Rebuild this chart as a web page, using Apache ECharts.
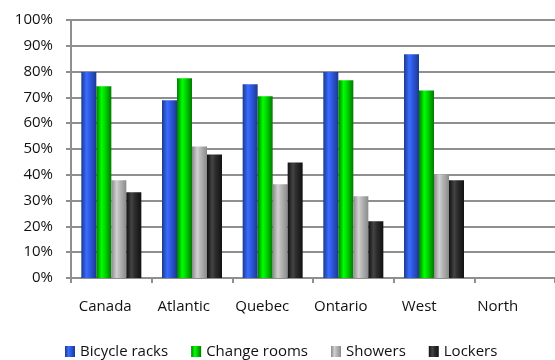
<!DOCTYPE html>
<html>
<head>
<meta charset="utf-8">
<script src="https://cdn.jsdelivr.net/npm/echarts@6/dist/echarts.min.js"></script>
<style>
  html, body { margin: 0; padding: 0; background: #fff; }
  #chart { width: 555px; height: 360px; }
</style>
</head>
<body>
<div id="chart"></div>
<script>
// Regions and facility shares (percent of workplaces)
const regions = ['Canada', 'Atlantic', 'Quebec', 'Ontario', 'West', 'North'];
const bicycleRacks = [79.8, 68.9, 75.1, 79.8, 86.7, null];
const changeRooms  = [74.3, 77.4, 70.4, 76.6, 72.7, null];
const showers      = [37.9, 51.0, 36.3, 31.7, 40.2, null];
const lockers      = [33.2, 47.9, 44.8, 22.0, 37.9, null];
const yTicks = [0, 10, 20, 30, 40, 50, 60, 70, 80, 90, 100];

const FONT = '"Open Sans", Lato, sans-serif';

// Horizontal shading that gives each bar a rounded, cylinder-like look
function shade(edge, mid, hi) {
  return new echarts.graphic.LinearGradient(0, 0, 1, 0, [
    { offset: 0, color: edge },
    { offset: 0.35, color: hi },
    { offset: 0.55, color: mid },
    { offset: 1, color: edge }
  ]);
}

const palette = {
  'Bicycle racks': shade('#1c3a8c', '#2f5ae6', '#3a6cff'),
  'Change rooms':  shade('#007a00', '#00dd00', '#00ff00'),
  'Showers':       shade('#8a8a8a', '#b8b8b8', '#d0d0d0'),
  'Lockers':       shade('#111111', '#2e2e2e', '#444444')
};

const seriesData = [
  ['Bicycle racks', bicycleRacks],
  ['Change rooms', changeRooms],
  ['Showers', showers],
  ['Lockers', lockers]
];

const chart = echarts.init(document.getElementById('chart'), null, { renderer: 'canvas' });

chart.setOption({
  animation: false,
  grid: [
    { left: 71, top: 20, bottom: 82, right: -13, containLabel: false },
    // separate band that carries the region names
    { left: 66, top: 290, height: 1, width: 471 }
  ],
  legend: {
    top: 344,
    left: 65,
    padding: 0,
    itemWidth: 10,
    itemHeight: 11,
    itemGap: 23,
    icon: 'rect',
    textStyle: { fontFamily: FONT, fontSize: 15, color: '#111', padding: [8, 0, 0, 0] },
    data: seriesData.map(s => s[0])
  },
  xAxis: [
    {
      type: 'category',
      gridIndex: 0,
      data: regions,
      axisLine: { lineStyle: { color: '#8f8f8f', width: 2 } },
      axisTick: { show: true, length: 5, lineStyle: { color: '#8f8f8f', width: 2 } },
      axisLabel: { show: false }
    },
    {
      type: 'category',
      gridIndex: 1,
      data: regions,
      axisLine: { show: false },
      axisTick: { show: false },
      axisLabel: { fontFamily: FONT, fontSize: 15, color: '#111', margin: 8 }
    }
  ],
  yAxis: [
    {
      type: 'value',
      gridIndex: 0,
      min: 0,
      max: 100,
      interval: 10,
      axisLine: { show: true, lineStyle: { color: '#8f8f8f', width: 2 } },
      axisTick: { show: true, length: 5, lineStyle: { color: '#8f8f8f', width: 2 } },
      splitLine: { lineStyle: { color: '#8f8f8f', width: 2 } },
      axisLabel: {
        fontFamily: FONT, fontSize: 15, color: '#111', margin: 18,
        formatter: v => (yTicks.includes(v) ? v + '%' : '')
      }
    },
    {
      type: 'value',
      gridIndex: 1,
      show: false
    }
  ],
  series: seriesData.map(([name, values]) => ({
    name,
    type: 'bar',
    xAxisIndex: 0,
    yAxisIndex: 0,
    data: values,
    barWidth: 15,
    barGap: '0%',
    itemStyle: { color: palette[name] }
  }))
});
</script>
</body>
</html>
